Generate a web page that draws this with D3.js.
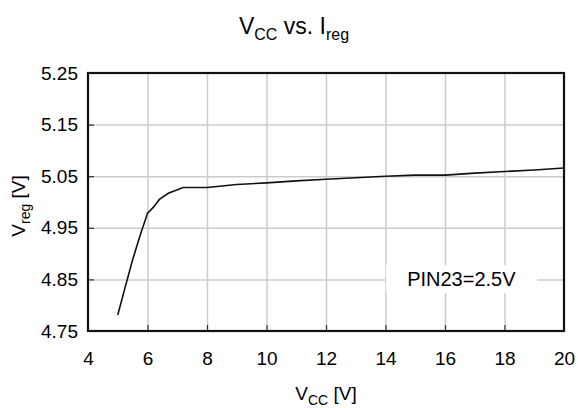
<!DOCTYPE html>
<html>
<head>
<meta charset="utf-8">
<script src="https://cdnjs.cloudflare.com/ajax/libs/d3/7.8.5/d3.min.js"></script>
<style>
	body { margin: 0; background: #fff; }
	svg { font-family: Arial, "Liberation Sans", sans-serif; }
	.grid line { stroke: #cccccc; stroke-width: 1.5; }
	.grid path { display: none; }
	.axis path { display: none; }
	.axis line { stroke: #333; stroke-width: 1.2; }
	.axis text { font-size: 19px; fill: #000; }
</style>
</head>
<body>
<script>
const vcc = [5, 5.25, 5.5, 5.75, 6, 6.2, 6.4, 6.7, 7.2, 8, 9, 10, 11, 12, 13, 14, 15, 16, 17, 18, 19, 20];
const vreg = [4.781, 4.835, 4.888, 4.935, 4.978, 4.99, 5.005, 5.017, 5.028, 5.028, 5.034, 5.037, 5.041, 5.044, 5.047, 5.050, 5.052, 5.052, 5.056, 5.059, 5.062, 5.066];
const xTicks = [4, 6, 8, 10, 12, 14, 16, 18, 20];
const yTicks = [4.75, 4.85, 4.95, 5.05, 5.15, 5.25];
const note = { x: 16.55, y: 4.85, text: "PIN23=2.5V" };

const width = 578, height = 408;
const margin = { top: 73, right: 14, bottom: 77, left: 88 };
const w = width - margin.left - margin.right;
const h = height - margin.top - margin.bottom;

const x = d3.scaleLinear().domain([4, 20]).range([0, w]);
const y = d3.scaleLinear().domain([4.75, 5.25]).range([h, 0]);

const svg = d3.select("body").append("svg")
	.attr("width", width)
	.attr("height", height);

// title
const title = svg.append("text")
	.attr("x", 294)
	.attr("y", 34)
	.attr("text-anchor", "middle")
	.style("font-size", "23px");
title.append("tspan").text("V");
title.append("tspan").attr("dy", 6).style("font-size", "16px").text("CC");
title.append("tspan").attr("dy", -6).text(" vs. I");
title.append("tspan").attr("dy", 6).style("font-size", "16px").text("reg");

const g = svg.append("g")
	.attr("transform", `translate(${margin.left}, ${margin.top})`);

// grid
g.append("g")
	.attr("class", "grid")
	.attr("transform", `translate(0, ${h})`)
	.call(d3.axisBottom(x).tickValues(xTicks.slice(1, -1)).tickSize(-h).tickFormat(""));

g.append("g")
	.attr("class", "grid")
	.call(d3.axisLeft(y).tickValues(yTicks.slice(1, -1)).tickSize(-w).tickFormat(""));

// note box over grid
const noteG = g.append("g");
const noteBg = noteG.append("rect").attr("fill", "#fff");
const nt = noteG.append("text")
	.attr("x", x(note.x))
	.attr("y", y(note.y))
	.attr("dy", "0.35em")
	.attr("text-anchor", "middle")
	.style("font-size", "20px")
	.text(note.text);
const bb = nt.node().getBBox();
noteBg
	.attr("x", bb.x - 21)
	.attr("y", bb.y - 3)
	.attr("width", bb.width + 42)
	.attr("height", bb.height + 6);

// axes with inward ticks
const xAxis = g.append("g")
	.attr("class", "axis")
	.attr("transform", `translate(0, ${h})`)
	.call(d3.axisBottom(x).tickValues(xTicks).tickSize(-6).tickPadding(21).tickFormat(d3.format("d")));
xAxis.selectAll(".tick line").filter(d => d === 4 || d === 20).remove();

const yAxis = g.append("g")
	.attr("class", "axis")
	.call(d3.axisLeft(y).tickValues(yTicks).tickSize(-6).tickPadding(10).tickFormat(d3.format(".2f")));
yAxis.selectAll(".tick line").filter(d => d === 4.75 || d === 5.25).remove();

// curve
const line = d3.line()
	.x((d, i) => x(vcc[i]))
	.y(d => y(d));

g.append("path")
	.datum(vreg)
	.attr("d", line)
	.attr("fill", "none")
	.attr("stroke", "#111")
	.attr("stroke-width", 1.6);

// frame
g.append("rect")
	.attr("width", w)
	.attr("height", h)
	.attr("fill", "none")
	.attr("stroke", "#111")
	.attr("stroke-width", 2.2);

// axis titles
const xt = svg.append("text")
	.attr("x", margin.left + w / 2)
	.attr("y", 400)
	.attr("text-anchor", "middle")
	.style("font-size", "19px");
xt.append("tspan").text("V");
xt.append("tspan").attr("dy", 5).style("font-size", "14px").text("CC");
xt.append("tspan").attr("dy", -5).text(" [V]");

const yt = svg.append("text")
	.attr("transform", `translate(25, ${margin.top + h / 2 + 4}) rotate(-90)`)
	.attr("text-anchor", "middle")
	.style("font-size", "19px");
yt.append("tspan").text("V");
yt.append("tspan").attr("dy", 5).style("font-size", "14px").text("reg");
yt.append("tspan").attr("dy", -5).text(" [V]");
</script>
</body>
</html>
